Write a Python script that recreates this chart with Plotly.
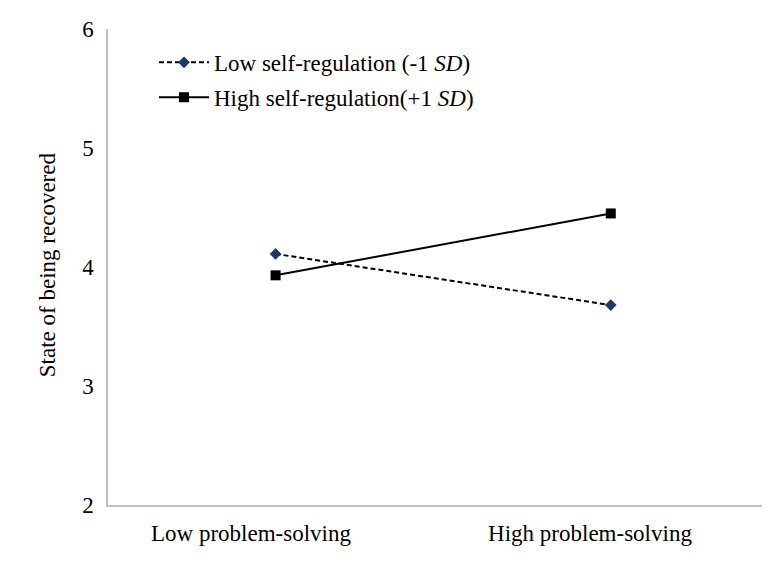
import plotly.graph_objects as go

categories = ["Low problem-solving", "High problem-solving"]
low_sr = [4.11, 3.68]
high_sr = [3.93, 4.45]
series_names = ["Low self-regulation (-1 <i>SD</i>)", "High self-regulation(+1 <i>SD</i>)"]
y_ticks = [2, 3, 4, 5, 6]
label_positions = [0, 1]

FONT = "Liberation Serif, Times New Roman, serif"
FS = 23

fig = go.Figure()
fig.add_trace(go.Scatter(
    x=categories, y=low_sr, name=series_names[0], mode="lines+markers",
    line=dict(color="black", width=2, dash="5px,3px"),
    marker=dict(symbol="diamond", size=9, color="#1f3864"),
    legendgroup="a",
))
fig.add_trace(go.Scatter(
    x=categories, y=high_sr, name=series_names[1], mode="lines+markers",
    line=dict(color="black", width=2),
    marker=dict(symbol="square", size=10, color="black"),
    legendgroup="b",
))
# carrier trace so the label axis is drawn (no visible marks)
fig.add_trace(go.Scatter(
    x=label_positions, y=[None, None], xaxis="x2", yaxis="y",
    mode="markers", showlegend=False, hoverinfo="skip",
    marker=dict(opacity=0),
))

fig.update_layout(
    width=762, height=568,
    margin=dict(l=100, r=0, t=21, b=71),
    paper_bgcolor="white", plot_bgcolor="white",
    font=dict(family=FONT, size=FS, color="black"),
    showlegend=True,
    legend=dict(
        x=0.0695, y=0.975, xanchor="left", yanchor="top",
        bgcolor="rgba(0,0,0,0)", traceorder="grouped", tracegroupgap=2,
        itemwidth=50, font=dict(family=FONT, size=FS, color="black"),
    ),
    xaxis=dict(
        type="category", range=[-0.5, 1.475], showgrid=False, zeroline=False,
        showline=True, linecolor="#bfbfbf", linewidth=1.5, ticks="",
        showticklabels=False,
    ),
    xaxis2=dict(
        type="linear", overlaying="x", side="bottom", anchor="y",
        range=[-0.42183, 1.53097], tickvals=label_positions, ticktext=categories,
        showgrid=False, zeroline=False, showline=False, ticks="",
        ticklabelstandoff=12, tickfont=dict(family=FONT, size=FS),
    ),
    yaxis=dict(
        range=[2, 6], tickvals=y_ticks, showgrid=False, zeroline=False,
        showline=True, linecolor="#bfbfbf", linewidth=1.5, ticks="",
        ticklabelstandoff=8, tickfont=dict(family=FONT, size=FS),
    ),
    annotations=[dict(
        text="State of being recovered", textangle=-90,
        xref="paper", yref="paper", x=-0.092, y=0.504,
        xanchor="center", yanchor="middle", showarrow=False,
        font=dict(family=FONT, size=FS, color="black"),
    )],
)

fig.write_html("out.html")
